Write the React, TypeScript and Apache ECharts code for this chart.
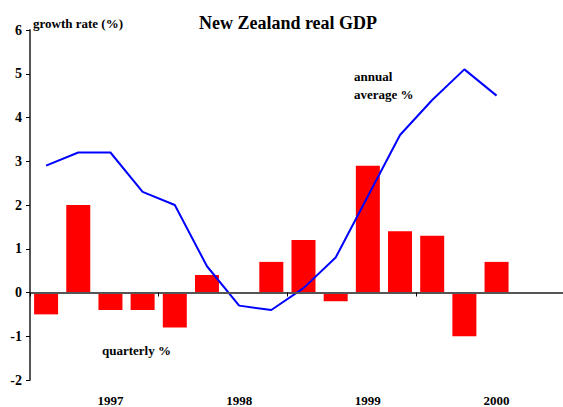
import React, { useEffect, useRef } from "react";
import * as echarts from "echarts";

const quarters = [
  "1996Q3", "1996Q4", "1997Q1", "1997Q2", "1997Q3", "1997Q4", "1998Q1", "1998Q2",
  "1998Q3", "1998Q4", "1999Q1", "1999Q2", "1999Q3", "1999Q4", "2000Q1", "", "",
];
const yearLabels: Record<number, string> = { 2: "1997", 6: "1998", 10: "1999", 14: "2000" };
const quarterly = [-0.5, 2.0, -0.4, -0.4, -0.8, 0.4, null, 0.7, 1.2, -0.2, 2.9, 1.4, 1.3, -1.0, 0.7, null, null];
const annual = [2.9, 3.2, 3.2, 2.3, 2.0, 0.6, -0.3, -0.4, 0.1, 0.8, 2.2, 3.6, 4.4, 5.1, 4.5, null, null];

const FONT = "'Liberation Serif', 'DejaVu Serif', serif";

export default function App() {
  const ref = useRef<HTMLDivElement>(null);
  useEffect(() => {
    if (!ref.current) return;
    const chart = echarts.init(ref.current, undefined, { renderer: "svg" });
    chart.setOption({
      animation: false,
      backgroundColor: "#ffffff",
      grid: { left: 30, top: 30, right: 0, bottom: 26, containLabel: false },
      title: {
        text: "New Zealand real GDP",
        left: 283,
        textAlign: "center",
        top: 9,
        textStyle: { fontFamily: FONT, fontWeight: "bold", fontSize: 18, color: "#000" },
      },
      graphic: [
        { type: "text", left: 33, top: 17, style: { text: "growth rate (%)", font: `bold 13px ${FONT}`, fill: "#000" } },
        { type: "text", left: 354, top: 67, style: { text: "annual\naverage %", font: `bold 13px ${FONT}`, fill: "#000", lineHeight: 18 } },
        { type: "text", left: 102, top: 344, style: { text: "quarterly %", font: `bold 13px ${FONT}`, fill: "#000" } },
      ],
      xAxis: [
        {
          type: "category",
          data: quarters,
          position: "bottom",
          boundaryGap: true,
          z: 5,
          axisLine: { onZero: true, lineStyle: { color: "#555", width: 2 } },
          axisTick: { show: true, length: 4, interval: (i: number) => i % 4 === 0 && i < 16, lineStyle: { color: "#000", width: 1 } },
          axisLabel: { show: false },
          splitLine: { show: false },
        },
        {
          type: "category",
          data: quarters,
          position: "bottom",
          boundaryGap: true,
          axisLine: { show: false, onZero: false },
          axisTick: { show: false },
          axisLabel: {
            interval: 0,
            margin: 14,
            formatter: (_v: string, i: number) => yearLabels[i] || "",
            fontFamily: FONT,
            fontWeight: "bold",
            fontSize: 13,
            color: "#000",
          },
        },
      ],
      yAxis: {
        type: "value",
        min: -2,
        max: 6,
        interval: 1,
        z: 5,
        axisLine: { show: true, lineStyle: { color: "#555", width: 2 } },
        axisTick: { show: true, length: 4, lineStyle: { color: "#000" } },
        axisLabel: { margin: 8, fontFamily: FONT, fontWeight: "bold", fontSize: 14, color: "#000" },
        splitLine: { show: false },
      },
      series: [
        {
          type: "bar",
          data: quarterly,
          xAxisIndex: 0,
          barWidth: 24,
          itemStyle: { color: "#ff0000" },
          z: 1,
        },
        {
          type: "line",
          data: annual,
          xAxisIndex: 0,
          showSymbol: false,
          symbol: "none",
          lineStyle: { color: "#0000ff", width: 2 },
          z: 3,
        },
      ],
    });
    return () => chart.dispose();
  }, []);
  return (
    <div style={{ width: 563, height: 407, position: "absolute", left: 0, top: 0, overflow: "hidden", background: "#fff" }}>
      <div ref={ref} style={{ width: 577, height: 407 }} />
    </div>
  );
}
